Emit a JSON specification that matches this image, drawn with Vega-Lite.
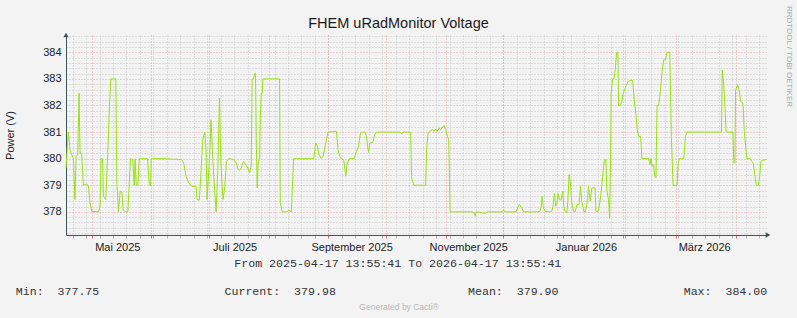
{
  "$schema": "https://vega.github.io/schema/vega-lite/v6.json",
  "width": 702,
  "height": 200,
  "autosize": {"type": "none"},
  "padding": {"left": 66, "top": 35, "right": 29, "bottom": 83},
  "background": "#f3f3f3",
  "config": {"view": {"stroke": null}, "font": "Liberation Sans"},
  "data": {"values": [
    {"time": "2025-04-17T13:56", "voltage": 379.65},
    {"time": "2025-04-18T19:00", "voltage": 381.0},
    {"time": "2025-04-19T16:00", "voltage": 380.34},
    {"time": "2025-04-20T13:00", "voltage": 380.15},
    {"time": "2025-04-21T10:00", "voltage": 380.0},
    {"time": "2025-04-22T06:00", "voltage": 378.46},
    {"time": "2025-04-22T19:00", "voltage": 380.09},
    {"time": "2025-04-23T16:00", "voltage": 380.15},
    {"time": "2025-04-24T09:00", "voltage": 382.46},
    {"time": "2025-04-24T21:00", "voltage": 380.21},
    {"time": "2025-04-25T18:00", "voltage": 380.15},
    {"time": "2025-04-26T15:00", "voltage": 379.0},
    {"time": "2025-04-28T09:00", "voltage": 379.05},
    {"time": "2025-04-29T06:00", "voltage": 378.96},
    {"time": "2025-04-30T02:00", "voltage": 378.34},
    {"time": "2025-04-30T23:00", "voltage": 378.02},
    {"time": "2025-05-04T11:00", "voltage": 378.0},
    {"time": "2025-05-05T07:00", "voltage": 378.21},
    {"time": "2025-05-05T20:00", "voltage": 380.0},
    {"time": "2025-05-06T13:00", "voltage": 380.0},
    {"time": "2025-05-07T01:00", "voltage": 378.59},
    {"time": "2025-05-08T06:00", "voltage": 378.46},
    {"time": "2025-05-09T07:00", "voltage": 380.21},
    {"time": "2025-05-10T04:00", "voltage": 381.96},
    {"time": "2025-05-10T21:00", "voltage": 383.0},
    {"time": "2025-05-13T12:00", "voltage": 383.0},
    {"time": "2025-05-14T00:00", "voltage": 379.09},
    {"time": "2025-05-14T21:00", "voltage": 378.0},
    {"time": "2025-05-15T18:00", "voltage": 378.78},
    {"time": "2025-05-16T15:00", "voltage": 378.75},
    {"time": "2025-05-17T07:00", "voltage": 378.09},
    {"time": "2025-05-18T08:00", "voltage": 378.0},
    {"time": "2025-05-19T18:00", "voltage": 378.0},
    {"time": "2025-05-20T10:00", "voltage": 379.0},
    {"time": "2025-05-21T03:00", "voltage": 380.0},
    {"time": "2025-05-22T08:00", "voltage": 379.96},
    {"time": "2025-05-23T01:00", "voltage": 379.0},
    {"time": "2025-05-23T13:00", "voltage": 380.0},
    {"time": "2025-05-24T02:00", "voltage": 379.0},
    {"time": "2025-05-24T23:00", "voltage": 379.0},
    {"time": "2025-05-25T16:00", "voltage": 380.0},
    {"time": "2025-05-27T01:00", "voltage": 380.0},
    {"time": "2025-05-30T00:00", "voltage": 380.0},
    {"time": "2025-05-30T21:00", "voltage": 379.0},
    {"time": "2025-05-31T13:00", "voltage": 379.0},
    {"time": "2025-05-31T22:00", "voltage": 380.0},
    {"time": "2025-06-08T05:00", "voltage": 380.0},
    {"time": "2025-06-11T16:00", "voltage": 379.98},
    {"time": "2025-06-14T07:00", "voltage": 379.98},
    {"time": "2025-06-15T04:00", "voltage": 379.96},
    {"time": "2025-06-16T13:00", "voltage": 379.98},
    {"time": "2025-06-17T18:00", "voltage": 379.84},
    {"time": "2025-06-19T00:00", "voltage": 379.34},
    {"time": "2025-06-20T09:00", "voltage": 379.09},
    {"time": "2025-06-22T03:00", "voltage": 378.96},
    {"time": "2025-06-24T05:00", "voltage": 378.96},
    {"time": "2025-06-24T17:00", "voltage": 378.46},
    {"time": "2025-06-25T22:00", "voltage": 378.44},
    {"time": "2025-06-26T11:00", "voltage": 379.09},
    {"time": "2025-06-27T16:00", "voltage": 380.71},
    {"time": "2025-06-28T17:00", "voltage": 381.0},
    {"time": "2025-06-29T10:00", "voltage": 380.34},
    {"time": "2025-06-29T22:00", "voltage": 378.46},
    {"time": "2025-06-30T11:00", "voltage": 379.09},
    {"time": "2025-07-01T04:00", "voltage": 380.0},
    {"time": "2025-07-02T00:00", "voltage": 381.46},
    {"time": "2025-07-02T21:00", "voltage": 380.0},
    {"time": "2025-07-03T18:00", "voltage": 378.96},
    {"time": "2025-07-04T15:00", "voltage": 378.0},
    {"time": "2025-07-05T12:00", "voltage": 379.59},
    {"time": "2025-07-06T09:00", "voltage": 382.28},
    {"time": "2025-07-07T01:00", "voltage": 380.0},
    {"time": "2025-07-07T18:00", "voltage": 378.96},
    {"time": "2025-07-08T06:00", "voltage": 378.46},
    {"time": "2025-07-09T03:00", "voltage": 378.96},
    {"time": "2025-07-10T00:00", "voltage": 379.9},
    {"time": "2025-07-11T06:00", "voltage": 380.0},
    {"time": "2025-07-12T23:00", "voltage": 379.98},
    {"time": "2025-07-13T20:00", "voltage": 379.96},
    {"time": "2025-07-15T01:00", "voltage": 379.84},
    {"time": "2025-07-16T02:00", "voltage": 379.59},
    {"time": "2025-07-16T19:00", "voltage": 379.56},
    {"time": "2025-07-17T16:00", "voltage": 379.65},
    {"time": "2025-07-18T21:00", "voltage": 379.9},
    {"time": "2025-07-19T22:00", "voltage": 379.78},
    {"time": "2025-07-21T03:00", "voltage": 379.65},
    {"time": "2025-07-22T00:00", "voltage": 379.46},
    {"time": "2025-07-22T21:00", "voltage": 379.71},
    {"time": "2025-07-23T09:00", "voltage": 383.0},
    {"time": "2025-07-24T02:00", "voltage": 383.0},
    {"time": "2025-07-24T19:00", "voltage": 383.21},
    {"time": "2025-07-25T03:00", "voltage": 383.21},
    {"time": "2025-07-25T12:00", "voltage": 380.71},
    {"time": "2025-07-26T00:00", "voltage": 378.9},
    {"time": "2025-07-26T12:00", "voltage": 379.84},
    {"time": "2025-07-27T05:00", "voltage": 380.0},
    {"time": "2025-07-27T13:00", "voltage": 381.34},
    {"time": "2025-07-28T02:00", "voltage": 382.46},
    {"time": "2025-07-28T15:00", "voltage": 382.46},
    {"time": "2025-07-28T23:00", "voltage": 383.0},
    {"time": "2025-08-06T15:00", "voltage": 383.0},
    {"time": "2025-08-07T00:00", "voltage": 378.34},
    {"time": "2025-08-08T01:00", "voltage": 378.0},
    {"time": "2025-08-10T03:00", "voltage": 378.0},
    {"time": "2025-08-11T12:00", "voltage": 378.05},
    {"time": "2025-08-12T17:00", "voltage": 378.0},
    {"time": "2025-08-13T06:00", "voltage": 378.84},
    {"time": "2025-08-13T23:00", "voltage": 380.0},
    {"time": "2025-08-24T09:00", "voltage": 380.0},
    {"time": "2025-08-25T10:00", "voltage": 380.59},
    {"time": "2025-08-26T07:00", "voltage": 380.46},
    {"time": "2025-08-27T04:00", "voltage": 380.15},
    {"time": "2025-08-28T09:00", "voltage": 380.0},
    {"time": "2025-08-29T06:00", "voltage": 380.09},
    {"time": "2025-08-30T03:00", "voltage": 380.4},
    {"time": "2025-08-31T00:00", "voltage": 380.71},
    {"time": "2025-08-31T20:00", "voltage": 381.0},
    {"time": "2025-09-05T05:00", "voltage": 381.03},
    {"time": "2025-09-06T01:00", "voltage": 380.34},
    {"time": "2025-09-06T22:00", "voltage": 380.09},
    {"time": "2025-09-07T19:00", "voltage": 380.0},
    {"time": "2025-09-09T00:00", "voltage": 379.96},
    {"time": "2025-09-10T01:00", "voltage": 379.34},
    {"time": "2025-09-10T18:00", "voltage": 379.78},
    {"time": "2025-09-11T19:00", "voltage": 380.0},
    {"time": "2025-09-14T10:00", "voltage": 380.0},
    {"time": "2025-09-15T15:00", "voltage": 380.28},
    {"time": "2025-09-16T16:00", "voltage": 380.46},
    {"time": "2025-09-17T17:00", "voltage": 380.96},
    {"time": "2025-09-18T10:00", "voltage": 381.0},
    {"time": "2025-09-19T23:00", "voltage": 381.0},
    {"time": "2025-09-20T20:00", "voltage": 380.84},
    {"time": "2025-09-21T09:00", "voltage": 380.46},
    {"time": "2025-09-21T21:00", "voltage": 380.24},
    {"time": "2025-09-22T14:00", "voltage": 380.59},
    {"time": "2025-09-23T15:00", "voltage": 380.59},
    {"time": "2025-09-24T07:00", "voltage": 380.65},
    {"time": "2025-09-25T00:00", "voltage": 380.9},
    {"time": "2025-09-26T01:00", "voltage": 381.0},
    {"time": "2025-10-08T05:00", "voltage": 381.0},
    {"time": "2025-10-09T02:00", "voltage": 380.93},
    {"time": "2025-10-09T23:00", "voltage": 381.0},
    {"time": "2025-10-13T19:00", "voltage": 381.0},
    {"time": "2025-10-14T07:00", "voltage": 379.28},
    {"time": "2025-10-15T12:00", "voltage": 379.0},
    {"time": "2025-10-21T14:00", "voltage": 379.0},
    {"time": "2025-10-22T03:00", "voltage": 380.4},
    {"time": "2025-10-22T20:00", "voltage": 380.96},
    {"time": "2025-10-23T21:00", "voltage": 381.03},
    {"time": "2025-10-25T02:00", "voltage": 381.09},
    {"time": "2025-10-25T23:00", "voltage": 381.03},
    {"time": "2025-10-26T19:00", "voltage": 381.11},
    {"time": "2025-10-27T16:00", "voltage": 381.03},
    {"time": "2025-10-28T13:00", "voltage": 381.15},
    {"time": "2025-10-29T10:00", "voltage": 381.09},
    {"time": "2025-10-30T07:00", "voltage": 381.19},
    {"time": "2025-10-31T04:00", "voltage": 381.24},
    {"time": "2025-11-01T01:00", "voltage": 381.09},
    {"time": "2025-11-01T22:00", "voltage": 380.84},
    {"time": "2025-11-02T14:00", "voltage": 380.71},
    {"time": "2025-11-03T07:00", "voltage": 378.0},
    {"time": "2025-11-14T22:00", "voltage": 378.0},
    {"time": "2025-11-15T19:00", "voltage": 377.96},
    {"time": "2025-11-16T08:00", "voltage": 377.84},
    {"time": "2025-11-16T20:00", "voltage": 378.0},
    {"time": "2025-11-18T10:00", "voltage": 377.99},
    {"time": "2025-11-20T04:00", "voltage": 377.96},
    {"time": "2025-11-21T09:00", "voltage": 377.94},
    {"time": "2025-11-22T18:00", "voltage": 378.0},
    {"time": "2025-11-29T17:00", "voltage": 378.0},
    {"time": "2025-12-01T02:00", "voltage": 378.05},
    {"time": "2025-12-02T07:00", "voltage": 378.0},
    {"time": "2025-12-07T13:00", "voltage": 378.0},
    {"time": "2025-12-08T10:00", "voltage": 378.15},
    {"time": "2025-12-09T06:00", "voltage": 378.28},
    {"time": "2025-12-10T12:00", "voltage": 378.15},
    {"time": "2025-12-11T13:00", "voltage": 378.0},
    {"time": "2025-12-18T20:00", "voltage": 378.0},
    {"time": "2025-12-19T21:00", "voltage": 378.02},
    {"time": "2025-12-20T13:00", "voltage": 378.15},
    {"time": "2025-12-21T02:00", "voltage": 378.59},
    {"time": "2025-12-21T19:00", "voltage": 378.15},
    {"time": "2025-12-22T16:00", "voltage": 378.02},
    {"time": "2025-12-24T22:00", "voltage": 378.0},
    {"time": "2025-12-26T03:00", "voltage": 378.02},
    {"time": "2025-12-26T20:00", "voltage": 378.21},
    {"time": "2025-12-27T12:00", "voltage": 378.69},
    {"time": "2025-12-28T05:00", "voltage": 378.21},
    {"time": "2025-12-28T18:00", "voltage": 378.28},
    {"time": "2025-12-29T10:00", "voltage": 378.69},
    {"time": "2025-12-30T03:00", "voltage": 378.46},
    {"time": "2025-12-31T00:00", "voltage": 378.44},
    {"time": "2025-12-31T21:00", "voltage": 378.78},
    {"time": "2026-01-01T09:00", "voltage": 378.21},
    {"time": "2026-01-02T02:00", "voltage": 378.02},
    {"time": "2026-01-02T23:00", "voltage": 377.96},
    {"time": "2026-01-03T11:00", "voltage": 378.34},
    {"time": "2026-01-04T04:00", "voltage": 379.4},
    {"time": "2026-01-04T21:00", "voltage": 379.09},
    {"time": "2026-01-05T13:00", "voltage": 378.34},
    {"time": "2026-01-06T10:00", "voltage": 378.02},
    {"time": "2026-01-07T07:00", "voltage": 378.0},
    {"time": "2026-01-08T08:00", "voltage": 378.28},
    {"time": "2026-01-09T09:00", "voltage": 378.28},
    {"time": "2026-01-10T02:00", "voltage": 378.96},
    {"time": "2026-01-10T18:00", "voltage": 378.4},
    {"time": "2026-01-11T19:00", "voltage": 378.02},
    {"time": "2026-01-12T16:00", "voltage": 378.0},
    {"time": "2026-01-13T13:00", "voltage": 378.34},
    {"time": "2026-01-14T06:00", "voltage": 378.96},
    {"time": "2026-01-15T03:00", "voltage": 378.4},
    {"time": "2026-01-16T00:00", "voltage": 378.9},
    {"time": "2026-01-17T17:00", "voltage": 378.9},
    {"time": "2026-01-18T02:00", "voltage": 378.02},
    {"time": "2026-01-19T11:00", "voltage": 378.02},
    {"time": "2026-01-20T08:00", "voltage": 378.46},
    {"time": "2026-01-21T05:00", "voltage": 379.0},
    {"time": "2026-01-22T02:00", "voltage": 379.71},
    {"time": "2026-01-22T14:00", "voltage": 379.96},
    {"time": "2026-01-23T07:00", "voltage": 379.96},
    {"time": "2026-01-23T19:00", "voltage": 378.78},
    {"time": "2026-01-24T16:00", "voltage": 378.46},
    {"time": "2026-01-25T05:00", "voltage": 377.75},
    {"time": "2026-01-25T17:00", "voltage": 379.96},
    {"time": "2026-01-26T01:00", "voltage": 382.46},
    {"time": "2026-01-26T18:00", "voltage": 383.0},
    {"time": "2026-01-27T11:00", "voltage": 383.0},
    {"time": "2026-01-28T04:00", "voltage": 383.34},
    {"time": "2026-01-28T20:00", "voltage": 384.0},
    {"time": "2026-01-29T13:00", "voltage": 384.0},
    {"time": "2026-01-29T21:00", "voltage": 382.0},
    {"time": "2026-01-30T18:00", "voltage": 382.0},
    {"time": "2026-01-31T15:00", "voltage": 382.15},
    {"time": "2026-02-01T08:00", "voltage": 382.46},
    {"time": "2026-02-02T00:00", "voltage": 382.59},
    {"time": "2026-02-02T17:00", "voltage": 382.71},
    {"time": "2026-02-03T18:00", "voltage": 382.9},
    {"time": "2026-02-04T23:00", "voltage": 382.94},
    {"time": "2026-02-06T05:00", "voltage": 382.94},
    {"time": "2026-02-07T01:00", "voltage": 382.21},
    {"time": "2026-02-07T22:00", "voltage": 381.65},
    {"time": "2026-02-08T15:00", "voltage": 381.09},
    {"time": "2026-02-09T08:00", "voltage": 380.84},
    {"time": "2026-02-10T09:00", "voltage": 380.84},
    {"time": "2026-02-11T01:00", "voltage": 380.0},
    {"time": "2026-02-14T13:00", "voltage": 380.0},
    {"time": "2026-02-15T06:00", "voltage": 379.78},
    {"time": "2026-02-15T18:00", "voltage": 380.0},
    {"time": "2026-02-16T06:00", "voltage": 379.71},
    {"time": "2026-02-17T03:00", "voltage": 379.78},
    {"time": "2026-02-17T16:00", "voltage": 379.34},
    {"time": "2026-02-18T08:00", "voltage": 379.28},
    {"time": "2026-02-18T21:00", "voltage": 382.0},
    {"time": "2026-02-19T18:00", "voltage": 382.0},
    {"time": "2026-02-20T15:00", "voltage": 382.53},
    {"time": "2026-02-21T12:00", "voltage": 383.28},
    {"time": "2026-02-22T08:00", "voltage": 383.71},
    {"time": "2026-02-23T05:00", "voltage": 383.71},
    {"time": "2026-02-24T02:00", "voltage": 384.0},
    {"time": "2026-02-25T12:00", "voltage": 384.0},
    {"time": "2026-02-26T08:00", "voltage": 380.84},
    {"time": "2026-02-27T05:00", "voltage": 379.0},
    {"time": "2026-03-01T07:00", "voltage": 379.0},
    {"time": "2026-03-01T20:00", "voltage": 379.78},
    {"time": "2026-03-02T12:00", "voltage": 380.0},
    {"time": "2026-03-04T19:00", "voltage": 380.0},
    {"time": "2026-03-05T16:00", "voltage": 380.84},
    {"time": "2026-03-06T12:00", "voltage": 381.0},
    {"time": "2026-03-24T10:00", "voltage": 381.0},
    {"time": "2026-03-24T18:00", "voltage": 383.34},
    {"time": "2026-03-25T11:00", "voltage": 382.9},
    {"time": "2026-03-26T04:00", "voltage": 382.0},
    {"time": "2026-03-26T20:00", "voltage": 381.0},
    {"time": "2026-03-30T08:00", "voltage": 381.0},
    {"time": "2026-03-30T20:00", "voltage": 379.84},
    {"time": "2026-03-31T09:00", "voltage": 379.84},
    {"time": "2026-03-31T17:00", "voltage": 382.59},
    {"time": "2026-04-01T18:00", "voltage": 382.78},
    {"time": "2026-04-02T11:00", "voltage": 382.65},
    {"time": "2026-04-03T08:00", "voltage": 382.15},
    {"time": "2026-04-04T13:00", "voltage": 382.09},
    {"time": "2026-04-05T06:00", "voltage": 381.03},
    {"time": "2026-04-05T23:00", "voltage": 380.46},
    {"time": "2026-04-06T15:00", "voltage": 380.0},
    {"time": "2026-04-08T09:00", "voltage": 380.0},
    {"time": "2026-04-09T01:00", "voltage": 379.9},
    {"time": "2026-04-09T22:00", "voltage": 379.84},
    {"time": "2026-04-10T19:00", "voltage": 379.34},
    {"time": "2026-04-11T12:00", "voltage": 379.0},
    {"time": "2026-04-12T13:00", "voltage": 379.0},
    {"time": "2026-04-13T06:00", "voltage": 379.34},
    {"time": "2026-04-13T22:00", "voltage": 379.9},
    {"time": "2026-04-14T23:00", "voltage": 379.94},
    {"time": "2026-04-16T00:00", "voltage": 379.96},
    {"time": "2026-04-16T21:00", "voltage": 379.98}
  ]},
  "layer": [
    {
      "mark": {"type": "line", "opacity": 0},
      "encoding": {
        "x": {
          "field": "time", "type": "temporal",
          "scale": {"domain": [{"year": 2025, "month": 4, "date": 17, "hours": 13, "minutes": 55, "seconds": 41}, {"year": 2026, "month": 4, "date": 17, "hours": 13, "minutes": 55, "seconds": 41}]},
          "axis": {
            "orient": "bottom",
            "values": [
              {"year": 2025, "month": 4, "date": 21}, {"year": 2025, "month": 4, "date": 28},
              {"year": 2025, "month": 5, "date": 5}, {"year": 2025, "month": 5, "date": 12}, {"year": 2025, "month": 5, "date": 19}, {"year": 2025, "month": 5, "date": 26},
              {"year": 2025, "month": 6, "date": 2}, {"year": 2025, "month": 6, "date": 9}, {"year": 2025, "month": 6, "date": 16}, {"year": 2025, "month": 6, "date": 23}, {"year": 2025, "month": 6, "date": 30},
              {"year": 2025, "month": 7, "date": 7}, {"year": 2025, "month": 7, "date": 14}, {"year": 2025, "month": 7, "date": 21}, {"year": 2025, "month": 7, "date": 28},
              {"year": 2025, "month": 8, "date": 4}, {"year": 2025, "month": 8, "date": 11}, {"year": 2025, "month": 8, "date": 18}, {"year": 2025, "month": 8, "date": 25},
              {"year": 2025, "month": 9, "date": 1}, {"year": 2025, "month": 9, "date": 8}, {"year": 2025, "month": 9, "date": 15}, {"year": 2025, "month": 9, "date": 22}, {"year": 2025, "month": 9, "date": 29},
              {"year": 2025, "month": 10, "date": 6}, {"year": 2025, "month": 10, "date": 13}, {"year": 2025, "month": 10, "date": 20}, {"year": 2025, "month": 10, "date": 27},
              {"year": 2025, "month": 11, "date": 3}, {"year": 2025, "month": 11, "date": 10}, {"year": 2025, "month": 11, "date": 17}, {"year": 2025, "month": 11, "date": 24},
              {"year": 2025, "month": 12, "date": 1}, {"year": 2025, "month": 12, "date": 8}, {"year": 2025, "month": 12, "date": 15}, {"year": 2025, "month": 12, "date": 22}, {"year": 2025, "month": 12, "date": 29},
              {"year": 2026, "month": 1, "date": 5}, {"year": 2026, "month": 1, "date": 12}, {"year": 2026, "month": 1, "date": 19}, {"year": 2026, "month": 1, "date": 26},
              {"year": 2026, "month": 2, "date": 2}, {"year": 2026, "month": 2, "date": 9}, {"year": 2026, "month": 2, "date": 16}, {"year": 2026, "month": 2, "date": 23},
              {"year": 2026, "month": 3, "date": 2}, {"year": 2026, "month": 3, "date": 9}, {"year": 2026, "month": 3, "date": 16}, {"year": 2026, "month": 3, "date": 23}, {"year": 2026, "month": 3, "date": 30},
              {"year": 2026, "month": 4, "date": 6}, {"year": 2026, "month": 4, "date": 13}
            ],
            "grid": true, "gridColor": "#c4c4c4", "gridDash": [1, 2], "gridWidth": 1,
            "ticks": true, "tickColor": "#b4b4b4", "tickSize": 3,
            "labels": false, "domain": false,
            "title": "Generated by Cacti®", "titleX": 332.6, "titleY": 74.5,
            "titleAlign": "center", "titleBaseline": "alphabetic", "titleAnchor": null,
            "titleFont": "Liberation Sans", "titleFontSize": 8.5, "titleFontWeight": "normal", "titleColor": "#b8b8b8"
          }
        },
        "y": {
          "field": "voltage", "type": "quantitative",
          "scale": {"domain": [377.13, 384.65], "nice": false, "zero": false},
          "axis": {
            "orient": "left",
            "values": [377.2, 377.4, 377.6, 377.8, 378.2, 378.4, 378.6, 378.8, 379.2, 379.4, 379.6, 379.8, 380.2, 380.4, 380.6, 380.8, 381.2, 381.4, 381.6, 381.8, 382.2, 382.4, 382.6, 382.8, 383.2, 383.4, 383.6, 383.8, 384.2, 384.4, 384.6],
            "grid": true, "gridColor": "#c4c4c4", "gridDash": [1, 2], "gridWidth": 1,
            "ticks": false, "labels": false, "domain": false,
            "title": "RRDTOOL / TOBI OETIKER", "titleAngle": 90, "titleX": 722.3, "titleY": 21,
            "titleAlign": "center", "titleBaseline": "middle",
            "titleFont": "Liberation Sans", "titleFontSize": 8, "titleFontWeight": "normal", "titleColor": "#a8a8a8"
          }
        }
      }
    },
    {
      "mark": {"type": "line", "opacity": 0},
      "encoding": {
        "x": {
          "field": "time", "type": "temporal",
          "scale": {"domain": [{"year": 2025, "month": 4, "date": 17, "hours": 13, "minutes": 55, "seconds": 41}, {"year": 2026, "month": 4, "date": 17, "hours": 13, "minutes": 55, "seconds": 41}]},
          "axis": {
            "orient": "bottom",
            "values": [
              {"year": 2025, "month": 5, "date": 1}, {"year": 2025, "month": 6, "date": 1}, {"year": 2025, "month": 7, "date": 1}, {"year": 2025, "month": 8, "date": 1},
              {"year": 2025, "month": 9, "date": 1}, {"year": 2025, "month": 10, "date": 1}, {"year": 2025, "month": 11, "date": 1}, {"year": 2025, "month": 12, "date": 1},
              {"year": 2026, "month": 1, "date": 1}, {"year": 2026, "month": 2, "date": 1}, {"year": 2026, "month": 3, "date": 1}, {"year": 2026, "month": 4, "date": 1}
            ],
            "grid": true, "gridColor": "#e48f8f", "gridOpacity": 0.75, "gridDash": [1, 2], "gridWidth": 1,
            "ticks": true, "tickColor": "#e07070", "tickSize": 3,
            "labels": false, "domain": false,
            "title": "FHEM uRadMonitor Voltage", "titleX": 332, "titleY": -208,
            "titleAlign": "center", "titleBaseline": "alphabetic", "titleAnchor": null,
            "titleFont": "Liberation Sans", "titleFontSize": 14.5, "titleFontWeight": "normal", "titleColor": "#1a1a1a"
          }
        },
        "y": {
          "field": "voltage", "type": "quantitative",
          "scale": {"domain": [377.13, 384.65], "nice": false, "zero": false},
          "axis": {
            "orient": "left",
            "values": [378, 379, 380, 381, 382, 383, 384],
            "format": "d",
            "grid": true, "gridColor": "#e48f8f", "gridOpacity": 0.75, "gridDash": [1, 2], "gridWidth": 1,
            "ticks": false, "domain": false,
            "labelFont": "Liberation Sans", "labelFontSize": 11, "labelColor": "#222222", "labelPadding": 5,
            "title": "Power (V)", "titleAngle": 270, "titleX": -55.5, "titleY": 100,
            "titleAlign": "center", "titleBaseline": "middle",
            "titleFont": "Liberation Sans", "titleFontSize": 11, "titleFontWeight": "normal", "titleColor": "#222222"
          }
        }
      }
    },
    {
      "mark": {"type": "line", "color": "#9be210", "strokeWidth": 1},
      "encoding": {
        "x": {
          "field": "time", "type": "temporal",
          "scale": {"domain": [{"year": 2025, "month": 4, "date": 17, "hours": 13, "minutes": 55, "seconds": 41}, {"year": 2026, "month": 4, "date": 17, "hours": 13, "minutes": 55, "seconds": 41}]},
          "axis": {
            "orient": "bottom",
            "values": [
              {"year": 2025, "month": 5, "date": 14, "hours": 6}, {"year": 2025, "month": 7, "date": 14, "hours": 6},
              {"year": 2025, "month": 9, "date": 13, "hours": 2}, {"year": 2025, "month": 11, "date": 12, "hours": 17},
              {"year": 2026, "month": 1, "date": 12, "hours": 22}, {"year": 2026, "month": 3, "date": 15, "hours": 9}
            ],
            "labelExpr": "['Januar','Februar','März','April','Mai','Juni','Juli','August','September','Oktober','November','Dezember'][month(datum.value)] + ' ' + year(datum.value)",
            "grid": false, "ticks": false,
            "domain": true, "domainColor": "#3d5757", "domainWidth": 1,
            "labelFont": "Liberation Sans", "labelFontSize": 11, "labelColor": "#222222", "labelPadding": 6,
            "labelFlush": false, "labelOverlap": false,
            "title": "From 2025-04-17 13:55:41 To 2026-04-17 13:55:41",
            "titleX": 331.3, "titleY": 31, "titleAlign": "center", "titleBaseline": "alphabetic", "titleAnchor": null,
            "titleFont": "Liberation Mono", "titleFontSize": 11.6, "titleFontWeight": "normal", "titleColor": "#333333"
          }
        },
        "y": {
          "field": "voltage", "type": "quantitative",
          "scale": {"domain": [377.13, 384.65], "nice": false, "zero": false},
          "axis": {
            "orient": "left", "grid": false, "ticks": false, "labels": false,
            "domain": true, "domainColor": "#3d5757", "domainWidth": 1,
            "title": "Min:\u00a0\u00a0377.75\u00a0\u00a0\u00a0\u00a0\u00a0\u00a0\u00a0\u00a0\u00a0\u00a0\u00a0\u00a0\u00a0\u00a0\u00a0\u00a0\u00a0\u00a0Current:\u00a0\u00a0379.98\u00a0\u00a0\u00a0\u00a0\u00a0\u00a0\u00a0\u00a0\u00a0\u00a0\u00a0\u00a0\u00a0\u00a0\u00a0\u00a0\u00a0\u00a0\u00a0Mean:\u00a0\u00a0379.90\u00a0\u00a0\u00a0\u00a0\u00a0\u00a0\u00a0\u00a0\u00a0\u00a0\u00a0\u00a0\u00a0\u00a0\u00a0\u00a0\u00a0\u00a0Max:\u00a0\u00a0384.00",
            "titleAngle": 0, "titleX": -50.7, "titleY": 259, "titleAlign": "left", "titleBaseline": "alphabetic", "titleAnchor": null,
            "titleFont": "Liberation Mono", "titleFontSize": 11.6, "titleFontWeight": "normal", "titleColor": "#333333"
          }
        }
      }
    },
    {
      "data": {"values": [{}]},
      "mark": {"type": "point", "shape": "triangle-right", "filled": true, "size": 28, "color": "#3d5757", "opacity": 1, "clip": false},
      "encoding": {
        "x": {"datum": {"year": 2026, "month": 4, "date": 17, "hours": 13, "minutes": 55, "seconds": 41}, "type": "temporal", "axis": null},
        "y": {"datum": 377.13, "type": "quantitative", "axis": null}
      }
    },
    {
      "data": {"values": [{}]},
      "mark": {"type": "point", "shape": "triangle-up", "filled": true, "size": 28, "color": "#3d5757", "opacity": 1, "clip": false},
      "encoding": {
        "x": {"datum": {"year": 2025, "month": 4, "date": 17, "hours": 13, "minutes": 55, "seconds": 41}, "type": "temporal", "axis": null},
        "y": {"datum": 384.65, "type": "quantitative", "axis": null}
      }
    }
  ],
  "resolve": {"axis": {"x": "independent", "y": "independent"}}
}
